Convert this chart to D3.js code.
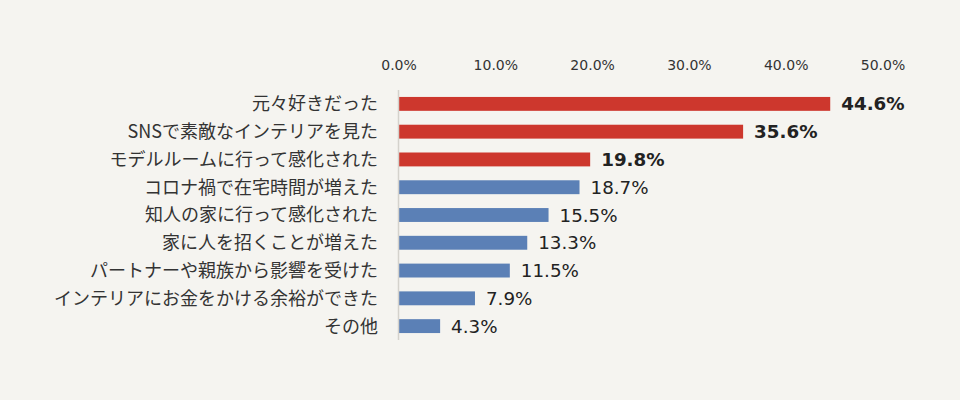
<!doctype html>
<html>
<head>
<meta charset="UTF-8">
<title>chart</title>
<script src="https://d3js.org/d3.v7.min.js"></script>
<style>
    html, body { margin: 0; padding: 0; background: #f5f4f0; }
</style>
</head>
<body>
<div id="chart"></div>
<script>
    var categories = ["元々好きだった", "SNSで素敵なインテリアを見た", "モデルルームに行って感化された",
        "コロナ禍で在宅時間が増えた", "知人の家に行って感化された", "家に人を招くことが増えた",
        "パートナーや親族から影響を受けた", "インテリアにお金をかける余裕ができた", "その他"];
    var values = [44.6, 35.6, 19.8, 18.7, 15.5, 13.3, 11.5, 7.9, 4.3];
    var highlight = [true, true, true, false, false, false, false, false, false];
    var ticks = [0, 10, 20, 30, 40, 50];

    var w = 960, h = 400;
    var svg = d3.select("#chart").append("svg")
        .attr("width", w).attr("height", h);

    svg.append("rect").attr("width", w).attr("height", h).attr("fill", "#f5f4f0");

    var x = d3.scaleLinear().domain([0, 50]).range([398.5, 882.5]);
    var y = d3.scaleBand().domain(categories).range([90, 340]).paddingInner(0.5).paddingOuter(0.25);

    // top axis labels
    var xAxis = d3.axisTop(x).tickValues(ticks).tickSize(0)
        .tickFormat(function(d){ return d.toFixed(1) + "%"; });
    var gx = svg.append("g").attr("transform", "translate(0,73)").call(xAxis);
    gx.select(".domain").remove();
    gx.selectAll("text")
        .attr("fill", "#333")
        .style("font-family", "'DejaVu Sans', Verdana, sans-serif")
        .style("font-size", "14px");

    // bars
    svg.selectAll("rect.bar").data(values).enter().append("rect")
        .attr("class", "bar")
        .attr("x", x(0))
        .attr("y", function(d, i){ return y(categories[i]); })
        .attr("width", function(d){ return x(d) - x(0); })
        .attr("height", y.bandwidth())
        .attr("fill", function(d, i){ return highlight[i] ? "#cd372d" : "#5b80b6"; });

    // vertical axis line
    svg.append("line")
        .attr("x1", x(0)).attr("x2", x(0))
        .attr("y1", 90).attr("y2", 340)
        .attr("stroke", "#d4d2cc").attr("stroke-width", 1.5);

    // category labels
    svg.selectAll("text.cat").data(categories).enter().append("text")
        .attr("class", "cat")
        .attr("x", 378)
        .attr("y", function(d){ return y(d) + y.bandwidth() / 2; })
        .attr("dy", "0.36em")
        .attr("text-anchor", "end")
        .attr("fill", "#333")
        .style("font-family", "'Noto Sans CJK JP', sans-serif")
        .style("font-size", "18px")
        .text(function(d){ return d; });

    // value labels
    svg.selectAll("text.val").data(values).enter().append("text")
        .attr("class", "val")
        .attr("x", function(d){ return x(d) + 11; })
        .attr("y", function(d, i){ return y(categories[i]) + y.bandwidth() / 2; })
        .attr("dy", "0.36em")
        .attr("fill", "#222")
        .style("font-family", "'DejaVu Sans', Verdana, sans-serif")
        .style("font-size", "18.3px")
        .style("font-weight", function(d, i){ return highlight[i] ? "bold" : "normal"; })
        .text(function(d){ return d.toFixed(1) + "%"; });
</script>
</body>
</html>
